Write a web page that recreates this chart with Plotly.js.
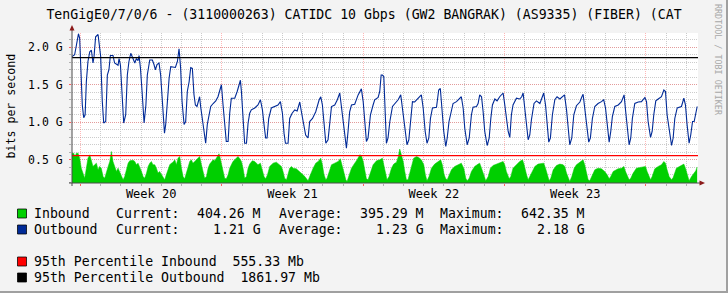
<!DOCTYPE html>
<html><head><meta charset="utf-8">
<script src="https://cdn.plot.ly/plotly-3.0.1.min.js"></script>
<style>
html,body{margin:0;padding:0;background:#f3f3f3;}
#wrap{position:relative;width:728px;height:293px;overflow:hidden;}
#chart{width:728px;height:293px;}
#frame{position:absolute;left:0;top:0;width:728px;height:293px;box-sizing:border-box;border-right:2px solid #a0a0a0;border-bottom:2px solid #a0a0a0;pointer-events:none;}
</style></head><body>
<div id="wrap"><div id="chart"></div><div id="frame"></div></div>
<script>
// ---------------- DATA ----------------
// time in days from the left edge of the graph, values in Gbps
const outDays = [0.00,0.13,0.22,0.32,0.38,0.43,0.46,0.51,0.58,0.65,0.71,0.79,0.88,0.96,1.04,1.09,1.17,1.29,1.37,1.42,1.50,1.57,1.67,1.75,1.83,1.90,2.03,2.11,2.28,2.33,2.40,2.46,2.56,2.66,2.74,2.82,2.91,3.02,3.11,3.19,3.27,3.32,3.39,3.47,3.57,3.66,3.73,3.85,3.98,4.06,4.13,4.21,4.31,4.39,4.48,4.58,4.64,4.72,4.81,4.89,5.00,5.12,5.22,5.30,5.38,5.45,5.55,5.63,5.71,5.80,5.88,5.96,6.04,6.11,6.19,6.28,6.32,6.37,6.46,6.54,6.62,6.70,6.79,6.87,6.99,7.12,7.23,7.32,7.40,7.48,7.56,7.64,7.73,7.81,7.89,8.06,8.18,8.27,8.34,
8.39,8.47,8.55,8.64,8.72,8.80,8.88,9.05,9.21,9.33,9.43,9.51,9.59,9.66,9.74,9.87,10.04,10.20,10.32,10.42,10.50,10.57,10.70,10.78,10.90,11.03,11.15,11.28,11.36,11.49,11.57,11.69,11.77,11.91,12.07,12.24,12.32,12.40,12.48,12.57,12.68,12.76,12.85,13.01,13.14,13.26,13.34,13.42,13.51,13.59,13.67,13.75,13.84,14.00,14.17,14.33,14.42,14.50,14.58,14.66,14.78,14.91,14.99,15.16,15.24,15.31,15.37,15.44,15.49,15.57,15.65,15.74,15.87,15.98,16.15,16.28,16.36,16.48,16.59,16.68,16.76,16.86,16.97,17.11,17.22,17.30,17.39,17.49,17.58,17.67,17.75,17.85,18.05,18.16,18.24,18.31,18.41,18.51,18.58,18.67,18.79,18.87,19.04,19.20,19.28,19.37,19.45,19.57,19.67,19.78,19.86,20.03,20.11,20.19,
20.28,20.36,20.44,20.56,20.66,20.74,20.82,20.94,21.05,21.18,21.28,21.35,21.41,21.51,21.60,21.68,21.76,21.84,22.01,22.17,22.27,22.34,22.42,22.50,22.59,22.67,22.75,22.88,23.00,23.17,23.30,23.36,23.45,23.53,23.61,23.69,23.79,23.91,24.02,24.16,24.29,24.39,24.49,24.57,24.65,24.75,24.85,24.98,25.15,25.25,25.31,25.39,25.48,25.59,25.67,25.77,25.89,26.05,26.22,26.33,26.42,26.50,26.60,26.68,26.76,26.88,27.05,27.21,27.34,27.42,27.51,27.59,27.67,27.75,27.87,28.04,28.20,28.37,28.45,28.53,28.65,28.73,28.81,28.91,29.03,29.19,29.31,29.39,29.47,29.57,29.69,29.77,29.85,29.97,30.10,30.18,30.30,30.38,30.46,30.56,30.64,30.73,30.81,30.89,30.96];
const outGbps = [1.875,1.90,2.03,2.18,2.12,1.85,1.50,1.23,1.06,1.10,1.54,1.81,1.94,1.96,1.79,1.875,2.14,2.17,1.99,1.875,1.28,0.99,1.01,1.63,1.70,1.89,1.89,1.79,1.76,1.85,1.76,1.41,0.99,1.10,1.63,1.81,1.92,1.85,1.79,1.85,1.82,1.89,1.72,1.41,0.99,1.23,1.63,1.83,1.83,1.77,1.70,1.77,1.79,1.63,1.23,0.855,0.97,1.32,1.59,1.74,1.74,1.73,1.81,1.98,1.72,1.28,0.97,1.01,1.41,1.54,1.73,1.72,1.37,1.23,1.21,1.32,1.34,1.21,1.05,0.877,0.72,0.97,1.13,1.21,1.25,1.285,1.34,1.43,1.50,1.23,1.03,0.744,0.744,1.12,1.32,1.32,1.41,1.50,1.56,
1.41,1.10,0.72,0.72,0.99,1.12,1.165,1.19,1.23,1.30,1.165,0.965,0.79,0.79,1.05,1.19,1.21,1.23,1.275,1.12,0.855,0.72,0.72,1.05,1.12,1.165,1.15,1.27,1.14,0.965,0.83,0.79,1.01,1.05,1.14,1.30,1.34,1.23,0.965,0.72,0.766,0.965,1.21,1.23,1.30,1.39,1.23,1.01,0.83,0.655,0.877,1.14,1.23,1.24,1.365,1.445,1.275,1.01,0.743,0.79,1.10,1.23,1.30,1.33,1.41,1.63,1.63,1.61,1.19,0.72,0.79,1.01,1.21,1.24,1.30,1.365,1.19,0.877,0.70,0.766,1.05,1.275,1.27,1.31,1.33,1.365,1.19,0.877,0.72,0.79,1.05,1.19,1.20,1.43,1.45,1.19,0.877,0.677,0.79,1.01,1.165,1.25,1.275,1.32,1.34,1.19,0.92,0.70,0.79,1.10,1.20,1.21,1.25,1.365,
1.34,1.14,0.877,0.69,0.79,1.05,1.23,1.31,1.285,1.34,1.365,1.39,1.275,1.05,0.877,0.797,1.10,1.23,1.32,1.31,1.34,1.39,1.19,1.01,0.766,0.83,1.03,1.25,1.285,1.25,1.365,1.39,1.23,0.965,0.735,0.79,1.10,1.30,1.34,1.31,1.34,1.365,1.165,0.877,0.70,0.79,1.10,1.22,1.27,1.34,1.374,1.19,0.965,0.735,0.79,1.05,1.21,1.25,1.275,1.30,1.19,0.965,0.735,0.877,1.076,1.21,1.23,1.275,1.365,1.14,0.877,0.70,0.79,1.05,1.25,1.27,1.275,1.33,1.275,1.01,0.797,0.877,1.10,1.285,1.31,1.34,1.43,1.41,1.10,0.877,0.69,0.79,1.05,1.19,1.20,1.21,1.32,1.23,0.965,0.72,0.83,1.01,1.01,1.10,1.21];

const inDays = [0.00,0.08,0.15,0.22,0.30,0.38,0.46,0.55,0.63,0.71,0.79,0.88,0.96,1.04,1.12,1.21,1.29,1.37,1.45,1.54,1.62,1.70,1.79,1.87,1.95,2.03,2.11,2.20,2.28,2.36,2.45,2.53,2.61,2.69,2.78,2.86,3.02,3.11,3.19,3.27,3.35,3.44,3.52,3.60,3.69,3.77,3.85,3.93,4.01,4.10,4.18,4.26,4.34,4.43,4.51,4.59,4.67,4.76,4.84,4.92,5.00,5.09,5.17,5.25,5.33,5.42,5.50,5.58,5.66,5.75,5.83,5.91,5.99,6.08,6.16,6.24,6.32,6.41,6.49,6.57,6.66,6.74,6.82,6.90,6.99,7.07,7.15,7.23,7.28,7.32,7.40,7.48,7.56,7.64,7.73,7.81,7.89,7.97,8.06,8.14,8.22,8.31,
8.39,8.47,8.55,8.64,8.72,8.80,8.93,9.05,9.21,9.33,9.43,9.51,9.59,9.68,9.79,9.96,10.12,10.29,10.37,10.45,10.53,10.62,10.70,10.78,10.87,10.95,11.11,11.28,11.44,11.53,11.61,11.69,11.77,11.86,11.94,12.07,12.19,12.32,12.40,12.48,12.57,12.63,12.73,12.85,13.01,13.18,13.29,13.37,13.46,13.56,13.62,13.72,13.84,14.00,14.12,14.25,14.33,14.42,14.50,14.58,14.66,14.78,14.91,15.08,15.24,15.37,15.45,15.54,15.60,15.70,15.82,15.93,16.07,16.16,16.23,16.31,16.40,16.48,16.56,16.64,16.73,16.81,16.92,17.06,17.17,17.30,17.42,17.50,17.58,17.68,17.80,17.96,18.13,18.26,18.34,18.43,18.51,18.58,18.67,18.79,18.95,19.12,19.28,19.40,19.50,19.57,19.67,19.78,19.94,20.11,20.19,
20.28,20.36,20.49,20.61,20.72,20.85,21.02,21.18,21.35,21.43,21.51,21.65,21.73,21.84,22.01,22.17,22.31,22.39,22.51,22.59,22.67,22.79,22.92,23.08,23.25,23.36,23.45,23.55,23.63,23.71,23.83,23.99,24.16,24.32,24.40,24.49,24.59,24.65,24.75,24.87,24.98,25.15,25.31,25.39,25.48,25.56,25.64,25.76,25.89,26.05,26.22,26.38,26.50,26.60,26.68,26.80,26.93,27.04,27.21,27.33,27.41,27.51,27.59,27.67,27.79,27.95,28.12,28.28,28.40,28.48,28.56,28.65,28.73,28.86,29.03,29.19,29.31,29.39,29.47,29.57,29.69,29.77,29.93,30.10,30.30,30.38,30.46,30.56,30.68,30.81,30.89,30.96];
const inGbps = [0.588,0.588,0.544,0.588,0.588,0.521,0.388,0.300,0.255,0.388,0.521,0.566,0.477,0.411,0.433,0.455,0.366,0.411,0.388,0.277,0.255,0.344,0.411,0.477,0.610,0.477,0.411,0.344,0.388,0.344,0.277,0.233,0.277,0.366,0.455,0.486,0.495,0.477,0.433,0.455,0.411,0.344,0.277,0.255,0.322,0.411,0.455,0.477,0.433,0.433,0.388,0.322,0.344,0.300,0.255,0.233,0.300,0.366,0.433,0.455,0.468,0.499,0.433,0.521,0.544,0.388,0.277,0.246,0.322,0.411,0.477,0.499,0.455,0.477,0.499,0.530,0.544,0.433,0.322,0.255,0.277,0.388,0.442,0.477,0.499,0.486,0.521,0.566,0.580,0.544,0.433,0.322,0.255,0.246,0.300,0.388,0.442,0.477,0.499,0.521,0.544,0.513,
0.477,0.388,0.255,0.277,0.388,0.442,0.486,0.477,0.433,0.455,0.344,0.277,0.246,0.300,0.411,0.455,0.468,0.433,0.411,0.344,0.255,0.233,0.309,0.388,0.411,0.388,0.379,0.344,0.300,0.277,0.255,0.220,0.277,0.344,0.388,0.455,0.477,0.521,0.433,0.300,0.233,0.255,0.344,0.433,0.455,0.477,0.513,0.433,0.322,0.233,0.211,0.300,0.388,0.455,0.499,0.566,0.557,0.477,0.344,0.246,0.233,0.344,0.433,0.486,0.499,0.521,0.433,0.300,0.233,0.277,0.388,0.442,0.468,0.544,0.642,0.566,0.477,0.344,0.233,0.233,0.322,0.433,0.521,0.544,0.530,0.499,0.433,0.300,0.220,0.277,0.388,0.442,0.468,0.499,0.433,0.300,0.246,0.233,0.291,0.366,0.411,0.433,0.455,0.388,0.255,0.220,0.255,0.344,0.411,0.442,0.455,
0.388,0.322,0.220,0.277,0.388,0.424,0.442,0.455,0.477,0.433,0.344,0.246,0.277,0.388,0.433,0.477,0.499,0.433,0.300,0.233,0.277,0.344,0.411,0.442,0.455,0.455,0.388,0.300,0.220,0.255,0.366,0.424,0.442,0.433,0.411,0.322,0.233,0.211,0.277,0.388,0.433,0.468,0.499,0.433,0.322,0.233,0.220,0.300,0.366,0.388,0.379,0.344,0.300,0.246,0.277,0.344,0.366,0.379,0.388,0.411,0.344,0.277,0.233,0.255,0.322,0.388,0.397,0.411,0.411,0.344,0.277,0.233,0.277,0.379,0.411,0.433,0.477,0.455,0.366,0.277,0.233,0.264,0.388,0.411,0.442,0.388,0.300,0.220,0.277,0.322,0.353,0.404];

const pct95InGbps = 0.55533;   // 555.33 Mb
const pct95OutGbps = 1.86197;  // 1861.97 Mb
const spanDays = 31;
const weekStarts = [0.42, 7.42, 14.42, 21.42, 28.42];
const weekLabels = ['Week 20', 'Week 21', 'Week 22', 'Week 23'];
const yTickVals = [0.5, 1.0, 1.5, 2.0];
const yTickText = ['0.5 G', '1.0 G', '1.5 G', '2.0 G'];
const seriesNames = ['Inbound', 'Outbound'];
const currentVals = ['404.26 M', '1.21 G'];
const averageVals = ['395.29 M', '1.23 G'];
const maximumVals = ['642.35 M', '2.18 G'];
const pctLines = ['95th Percentile Inbound  555.33 Mb', '95th Percentile Outbound  1861.97 Mb'];
const titleText = 'TenGigE0/7/0/6 - (3110000263) CATIDC 10 Gbps (GW2 BANGRAK) (AS9335) (FIBER) (CAT';

// ---------------- LAYOUT HELPERS ----------------
const W = 728, H = 293, ML = 72, MR = 30, MT = 33, MB = 110;
const PW = W - ML - MR, PH = H - MT - MB;
const px = x => (x - ML) / PW;
const py = y => (H - MB - y) / PH;
const MONO = 'DejaVu Sans Mono, monospace';
const C_IN = '#00CF00', C_OUT = '#002A97', C_P_IN = '#FF0000', C_P_OUT = '#000000';
const weekMid = weekLabels.map((_, i) => weekStarts[i] + 3.5);

const traces = [
  {x: inDays, y: inGbps, type: 'scatter', mode: 'lines', fill: 'tozeroy',
   fillcolor: C_IN, line: {color: C_IN, width: 0.5}, hoverinfo: 'skip'},
  {x: outDays, y: outGbps, type: 'scatter', mode: 'lines',
   line: {color: C_OUT, width: 1.1}, hoverinfo: 'skip'},
  {x: [0, spanDays], y: [pct95InGbps, pct95InGbps], type: 'scatter', mode: 'lines',
   line: {color: C_P_IN, width: 1.2}, hoverinfo: 'skip'},
  {x: [0, spanDays], y: [pct95OutGbps, pct95OutGbps], type: 'scatter', mode: 'lines', xaxis: 'x2',
   line: {color: C_P_OUT, width: 1.2}, hoverinfo: 'skip'}
];

const ann = [];
function txt(text, x, y, anchor, size, extra) {
  ann.push(Object.assign({text: text, xref: 'paper', yref: 'paper', x: px(x), y: py(y),
    xanchor: anchor, yanchor: 'middle', showarrow: false, borderpad: 0, borderwidth: 0,
    font: {family: MONO, size: size, color: '#000'}}, extra || {}));
}
const rowY = [213.3, 229.3];
seriesNames.forEach((n, i) => {
  const y = rowY[i];
  txt(n, 33.5, y, 'left', 13.2);
  txt('Current:', 116, y, 'left', 13.2);
  txt(currentVals[i], 261, y, 'right', 13.2);
  txt('Average:', 278.5, y, 'left', 13.2);
  txt(averageVals[i], 423.5, y, 'right', 13.2);
  txt('Maximum:', 440, y, 'left', 13.2);
  txt(maximumVals[i], 584.5, y, 'right', 13.2);
});
const pRowY = [261, 277.3];
pctLines.forEach((t, i) => txt(t, 33.5, pRowY[i], 'left', 13.2));
txt('bits per second', 10, 106.5, 'center', 11.6, {textangle: -90});
txt('RRDTOOL / TOBI OETIKER', 718, 60, 'center', 8.4, {textangle: 90, font: {family: MONO, size: 8.4, color: '#a8a8a8'}});

const shapes = [];
function box(x0, y0, x1, y1, color) {
  shapes.push({type: 'rect', xref: 'paper', yref: 'paper', x0: px(x0), x1: px(x1), y0: py(y1), y1: py(y0),
    fillcolor: color, line: {color: 'rgba(0,0,0,0.75)', width: 1}});
}
box(17.5, 209, 26.5, 218, C_IN);
box(17.5, 225, 26.5, 234, C_OUT);
box(17.5, 257, 26.5, 266, C_P_IN);
box(17.5, 273, 26.5, 282, C_P_OUT);
const AX = '#4a4a4a', ARROW = '#8b1a1a';
shapes.push({type: 'line', xref: 'paper', yref: 'paper', x0: px(72), x1: px(72), y0: py(186), y1: py(29), line: {color: AX, width: 1}});
shapes.push({type: 'line', xref: 'paper', yref: 'paper', x0: px(69), x1: px(700), y0: py(183), y1: py(183), line: {color: AX, width: 1}});
shapes.push({type: 'path', xref: 'paper', yref: 'paper', fillcolor: ARROW, line: {width: 0},
  path: `M ${px(72)} ${py(25)} L ${px(69.5)} ${py(30.5)} L ${px(74.5)} ${py(30.5)} Z`});
shapes.push({type: 'path', xref: 'paper', yref: 'paper', fillcolor: ARROW, line: {width: 0},
  path: `M ${px(705)} ${py(183)} L ${px(699.5)} ${py(180.5)} L ${px(699.5)} ${py(185.5)} Z`});

const layout = {
  width: W, height: H,
  margin: {l: ML, r: MR, t: MT, b: MB, pad: 0},
  paper_bgcolor: '#f3f3f3', plot_bgcolor: '#ffffff',
  showlegend: false,
  title: {text: titleText, font: {family: MONO, size: 13.2, color: '#000'},
          x: 0.5, xref: 'container', xanchor: 'center', y: 1 - 14 / H, yref: 'container', yanchor: 'middle'},
  xaxis: {range: [0, spanDays], tickmode: 'linear', tick0: weekStarts[0], dtick: 7,
          showticklabels: false, ticks: 'outside', ticklen: 2, tickcolor: '#ff5f5f', tickwidth: 1,
          showgrid: true, gridcolor: 'rgba(255,95,95,0.45)', griddash: '1px,1px', gridwidth: 1,
          minor: {tick0: weekStarts[0], dtick: 1, showgrid: true, gridcolor: '#cccccc', griddash: '1px,1px',
                  ticks: 'outside', ticklen: 2, tickcolor: '#b0b0b0'},
          zeroline: false, showline: false, fixedrange: true},
  xaxis2: {range: [0, spanDays], overlaying: 'x', anchor: 'y', side: 'bottom',
           tickmode: 'array', tickvals: weekMid, ticktext: weekLabels,
           showgrid: false, ticks: '', zeroline: false, showline: false, ticklabelstandoff: 2,
           tickfont: {family: MONO, size: 12, color: '#000'}, fixedrange: true},
  yaxis: {range: [0.19, 2.19], tickmode: 'array', tickvals: yTickVals, ticktext: yTickText,
          ticks: 'outside', ticklen: 2, tickcolor: '#ff5f5f',
          showgrid: true, gridcolor: 'rgba(255,95,95,0.45)', griddash: '1px,1px', gridwidth: 1,
          minor: {tick0: 0, dtick: 0.1, showgrid: true, gridcolor: '#cccccc', griddash: '1px,1px',
                  ticks: 'outside', ticklen: 2, tickcolor: '#b0b0b0'},
          zeroline: false, showline: false, ticklabelstandoff: 4,
          tickfont: {family: MONO, size: 11.5, color: '#000'}, fixedrange: true},
  annotations: ann,
  shapes: shapes
};
Plotly.newPlot('chart', traces, layout, {staticPlot: true, displayModeBar: false});
</script>
</body></html>
